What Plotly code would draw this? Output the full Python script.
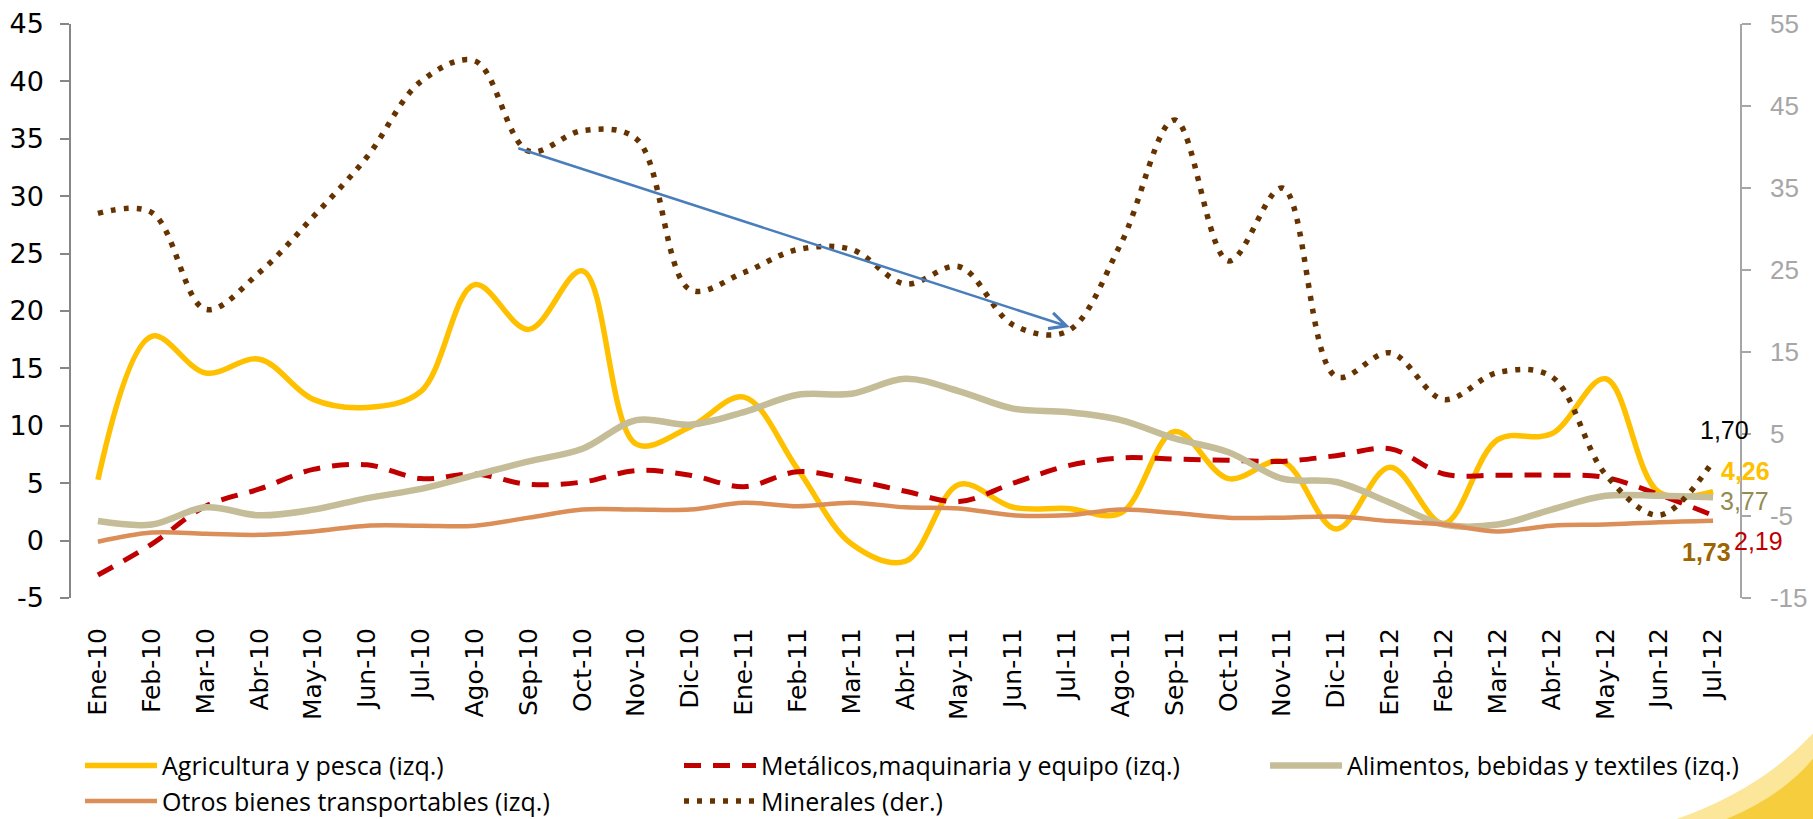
import plotly.graph_objects as go

months = ["Ene-10", "Feb-10", "Mar-10", "Abr-10", "May-10", "Jun-10", "Jul-10", "Ago-10",
          "Sep-10", "Oct-10", "Nov-10", "Dic-10", "Ene-11", "Feb-11", "Mar-11", "Abr-11",
          "May-11", "Jun-11", "Jul-11", "Ago-11", "Sep-11", "Oct-11", "Nov-11", "Dic-11",
          "Ene-12", "Feb-12", "Mar-12", "Abr-12", "May-12", "Jun-12", "Jul-12"]

agricultura = [5.3, 17.8, 14.6, 15.8, 12.3, 11.6, 13.0, 22.3, 18.4, 23.5, 8.4, 9.9, 12.5, 6.2,
               -0.3, -1.8, 4.9, 2.9, 2.8, 2.4, 9.5, 5.4, 6.9, 1.0, 6.4, 1.5, 8.8, 9.3, 14.1, 4.2, 4.26]
metalicos = [-3.0, -0.3, 3.0, 4.5, 6.2, 6.6, 5.4, 5.8, 4.9, 5.1, 6.1, 5.7, 4.7, 6.0, 5.3, 4.3,
             3.4, 5.0, 6.5, 7.2, 7.1, 7.0, 6.9, 7.4, 8.0, 5.8, 5.7, 5.7, 5.5, 4.0, 2.19]
alimentos = [1.7, 1.4, 2.9, 2.2, 2.7, 3.7, 4.5, 5.7, 6.9, 8.0, 10.5, 10.1, 11.2, 12.7, 12.8, 14.1,
             13.0, 11.5, 11.2, 10.5, 8.9, 7.7, 5.4, 5.1, 3.3, 1.4, 1.4, 2.7, 3.9, 3.9, 3.77]
otros = [-0.1, 0.7, 0.6, 0.5, 0.8, 1.3, 1.3, 1.3, 2.0, 2.7, 2.7, 2.7, 3.3, 3.0, 3.3, 2.9,
         2.8, 2.2, 2.2, 2.7, 2.4, 2.0, 2.0, 2.1, 1.7, 1.4, 0.8, 1.3, 1.4, 1.6, 1.73]
minerales = [31.9, 32.0, 20.2, 24.7, 31.5, 38.8, 48.0, 50.5, 39.5, 42.0, 41.0, 22.6, 24.7, 27.5,
             27.5, 23.3, 25.4, 18.3, 17.5, 28.2, 43.3, 26.1, 35.0, 12.0, 14.9, 9.2, 12.5, 12.0,
             0.1, -4.9, 1.70]

names = ["Agricultura y pesca (izq.)", "Metálicos,maquinaria y equipo (izq.)",
         "Alimentos, bebidas y textiles (izq.)", "Otros bienes transportables (izq.)",
         "Minerales (der.)"]

left_ticks = [-5, 0, 5, 10, 15, 20, 25, 30, 35, 40, 45]
right_ticks = [-15, -5, 5, 15, 25, 35, 45, 55]

# trend arrow (x in category index, y on right axis)
arrow_from = (7.78, 39.9)
arrow_to = (18.05, 18.05)

fig = go.Figure()
fig.add_trace(go.Scatter(x=months, y=agricultura, name=names[0], mode="lines", legend="legend",
                         line=dict(color="#FFC000", width=5.5, shape="spline", smoothing=1.0)))
fig.add_trace(go.Scatter(x=months, y=metalicos, name=names[1], mode="lines", legend="legend2",
                         line=dict(color="#C00000", width=5, dash="17px,12px", shape="spline", smoothing=1.0)))
fig.add_trace(go.Scatter(x=months, y=alimentos, name=names[2], mode="lines", legend="legend3",
                         line=dict(color="#C4BD97", width=6.5, shape="spline", smoothing=1.0)))
fig.add_trace(go.Scatter(x=months, y=otros, name=names[3], mode="lines", legend="legend",
                         line=dict(color="#DB8E58", width=4.5, shape="spline", smoothing=1.0)))
fig.add_trace(go.Scatter(x=months, y=minerales, name=names[4], mode="lines", yaxis="y2", legend="legend2",
                         line=dict(color="#663300", width=5.5, dash="5px,8px", shape="spline", smoothing=1.0)))

def fmt(v):
    return f"{v:.2f}".replace(".", ",")

end_labels = [
    dict(val=minerales[-1], yref="y2", color="#000000", bold=False, dx=11, dy=31),
    dict(val=agricultura[-1], yref="y", color="#FFC000", bold=True, dx=32, dy=21),
    dict(val=alimentos[-1], yref="y", color="#948A54", bold=False, dx=31, dy=-4),
    dict(val=metalicos[-1], yref="y", color="#C00000", bold=False, dx=45, dy=-26),
    dict(val=otros[-1], yref="y", color="#9C6500", bold=True, dx=-7, dy=-31),
]
annotations = []
for lab in end_labels:
    txt = fmt(lab["val"])
    if lab["bold"]:
        txt = "<b>" + txt + "</b>"
    annotations.append(dict(x=months[-1], y=lab["val"], xref="x", yref=lab["yref"], text=txt,
                            showarrow=False, xshift=lab["dx"], yshift=lab["dy"],
                            font=dict(family="Liberation Sans", size=25, color=lab["color"])))

annotations.append(dict(x=arrow_to[0], y=arrow_to[1], xref="x", yref="y2",
                        ax=arrow_from[0], ay=arrow_from[1], axref="x", ayref="y2",
                        text="", showarrow=True, arrowhead=5, arrowsize=1.3, arrowwidth=2.5,
                        arrowcolor="#4A7EBB"))

leg_common = dict(orientation="v", xref="container", yref="container", yanchor="top",
                  xanchor="left", y=0.093,
                  font=dict(family="Open Sans", size=25, color="black"),
                  itemwidth=72, traceorder="normal", bgcolor="rgba(0,0,0,0)")

fig.update_layout(
    width=1813, height=819,
    margin=dict(l=71, r=73, t=24, b=221, autoexpand=False),
    paper_bgcolor="white", plot_bgcolor="white",
    font=dict(family="Liberation Sans", color="black"),
    showlegend=True,
    legend=dict(leg_common, x=80 / 1813),
    legend2=dict(leg_common, x=679 / 1813),
    legend3=dict(leg_common, x=1265 / 1813),
    xaxis=dict(type="category", range=[-0.5, 30.5], showline=False, ticks="",
               showgrid=False, zeroline=False, tickangle=-90, automargin=False,
               tickfont=dict(family="DejaVu Sans, Verdana, sans-serif", size=25, color="black"),
               ticklabelstandoff=24),
    yaxis=dict(range=[-5, 45], tickvals=left_ticks, ticktext=[str(v) for v in left_ticks],
               showline=True, linecolor="#868686",
               linewidth=1.5, ticks="outside", ticklen=9, tickcolor="#868686", tickwidth=1.5,
               showgrid=False, zeroline=False, automargin=False,
               tickfont=dict(family="DejaVu Sans", size=27, color="black"),
               ticklabelstandoff=11),
    yaxis2=dict(range=[-15, 55], tickvals=right_ticks, ticktext=[str(v) for v in right_ticks],
                overlaying="y", side="right",
                showline=True, linecolor="#A6A6A6", linewidth=1.5, ticks="outside",
                ticklen=9, tickcolor="#A6A6A6", tickwidth=1.5, showgrid=False, zeroline=False,
                automargin=False,
                tickfont=dict(family="Liberation Sans", size=26, color="#A6A6A6"),
                ticklabelstandoff=14),
    annotations=annotations,
    shapes=[
        dict(type="path", xref="paper", yref="paper", layer="below",
             path="M 0.962 -0.385 Q 1.012 -0.334 1.0438 -0.236 L 1.0438 -0.385 Z",
             fillcolor="#FBE69A", line=dict(width=0)),
        dict(type="path", xref="paper", yref="paper", layer="below",
             path="M 0.992 -0.385 Q 1.025 -0.345 1.0438 -0.28 L 1.0438 -0.385 Z",
             fillcolor="#F6CD3C", line=dict(width=0)),
    ],
)

fig.write_html("out.html", post_script="document.body.style.margin='0';",
               config={"displayModeBar": False})
